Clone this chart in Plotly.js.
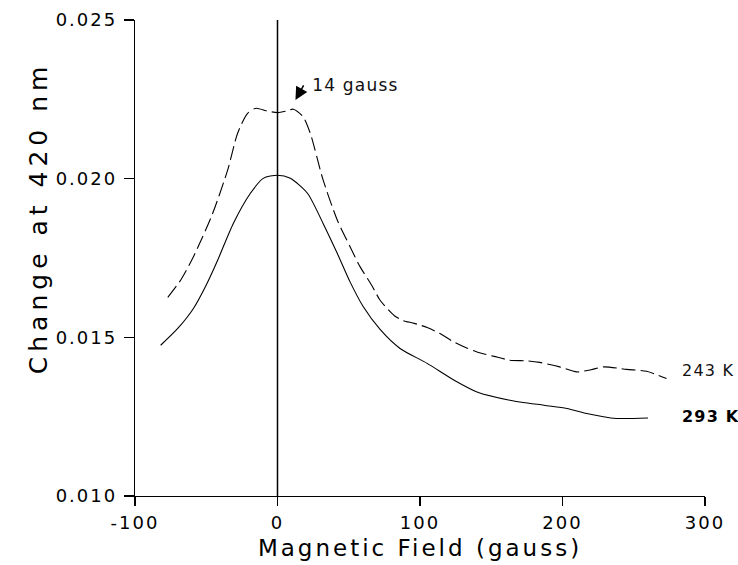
<!DOCTYPE html>
<html>
<head>
<meta charset="utf-8">
<script src="https://cdn.plot.ly/plotly-3.0.1.min.js"></script>
<style>
html, body { margin: 0; padding: 0; background: #fff; }
#chart { width: 738px; height: 565px; }
.xtitle { letter-spacing: 3px; }
.xtick text, .ytick text { letter-spacing: 2px; }
.annotation text { letter-spacing: 1.2px; }
.annotation[data-index="0"] text { letter-spacing: 5px; }
</style>
</head>
<body>
<div id="chart"></div>
<script>
// 243 K (dashed)
const field243 = [-77, -68, -59, -46, -35, -28, -21, -15, -8, 0, 7, 11, 18, 23, 32, 42, 51, 58, 66, 72, 82, 88, 96, 105, 114, 122, 132, 140, 152, 163, 175, 184, 198, 210, 220, 229, 245, 259, 273];
const change243 = [0.01626, 0.01680, 0.01754, 0.01885, 0.02027, 0.02143, 0.02206, 0.02222, 0.02214, 0.02208, 0.02214, 0.02219, 0.02195, 0.02143, 0.01996, 0.01869, 0.01785, 0.01722, 0.01665, 0.01617, 0.01568, 0.01553, 0.01544, 0.01531, 0.01512, 0.01490, 0.01468, 0.01454, 0.01440, 0.01428, 0.01426, 0.01421, 0.01407, 0.01391, 0.01398, 0.01407, 0.01399, 0.01393, 0.01370];

// 293 K (solid)
const field293 = [-82, -70, -59, -50, -42, -31, -19, -10, 0, 9, 21, 32, 42, 51, 60, 72, 86, 105, 124, 140, 163, 187, 203, 217, 234, 243, 260];
const change293 = [0.01475, 0.01528, 0.01591, 0.01665, 0.01743, 0.01859, 0.01954, 0.02001, 0.02011, 0.02001, 0.01954, 0.01859, 0.01764, 0.01674, 0.01598, 0.01525, 0.01465, 0.01418, 0.01365, 0.01328, 0.01302, 0.01286, 0.01276, 0.01260, 0.01246, 0.01244, 0.01246];

const xTickVals = [-100, 0, 100, 200, 300];
const xTickText = ["-100", "0", "100", "200", "300"];
const yTickVals = [0.010, 0.015, 0.020, 0.025];
const yTickText = ["0.010", "0.015", "0.020", "0.025"];

const seriesLabels = ["243 K", "293 K"];
const peakNote = "14 gauss";
const peakNoteAt = [12.6, 0.02248];

const traces = [
  { x: field243, y: change243, type: "scatter", mode: "lines", name: seriesLabels[0],
    line: { color: "#000", width: 1.1, dash: "14px,5px", shape: "spline", smoothing: 0.7 } },
  { x: field293, y: change293, type: "scatter", mode: "lines", name: seriesLabels[1],
    line: { color: "#000", width: 1.1, shape: "spline", smoothing: 0.7 } }
];

const font = "DejaVu Sans, sans-serif";

const layout = {
  width: 738, height: 565,
  margin: { l: 135, r: 33, t: 20, b: 69 },
  paper_bgcolor: "#fff", plot_bgcolor: "#fff",
  showlegend: false,
  xaxis: {
    range: [-100, 300], tickvals: xTickVals, ticktext: xTickText,
    showgrid: false, zeroline: false, showline: true, linecolor: "#000", linewidth: 1.2,
    ticks: "outside", ticklen: 9, tickwidth: 1.2, tickcolor: "#000",
    tickfont: { family: font, size: 18, color: "#000" }, ticklabelstandoff: 1,
    title: { text: "Magnetic Field (gauss)", font: { family: font, size: 23, color: "#000" }, standoff: 8 }
  },
  yaxis: {
    range: [0.010, 0.025], tickvals: yTickVals, ticktext: yTickText,
    showgrid: false, zeroline: false, showline: true, linecolor: "#000", linewidth: 1.2,
    ticks: "outside", ticklen: 10, tickwidth: 1.2, tickcolor: "#000",
    tickfont: { family: font, size: 18, color: "#000" }, ticklabelstandoff: 3
  },
  shapes: [
    { type: "line", xref: "x", yref: "paper", x0: 0, x1: 0, y0: 0, y1: 1,
      line: { color: "#000", width: 1.5 } }
  ],
  annotations: [
    { text: "Change at 420 nm", xref: "paper", yref: "paper", x: -0.198, y: 0.585,
      textangle: -90, showarrow: false, font: { family: font, size: 25, color: "#000" } },
    { text: seriesLabels[0], xref: "x", yref: "y", x: 284.5, y: 0.01396, xanchor: "left",
      showarrow: false, font: { family: font, size: 16, color: "#111" } },
    { text: "<b>" + seriesLabels[1] + "</b>", xref: "x", yref: "y", x: 284.5, y: 0.01251, xanchor: "left",
      showarrow: false, font: { family: font, size: 16, color: "#000" } },
    { text: peakNote, xref: "x", yref: "y", x: 26.5, y: 0.02295, xanchor: "left",
      showarrow: false, font: { family: font, size: 17, color: "#111" } },
    { text: "", xref: "x", yref: "y", x: peakNoteAt[0], y: peakNoteAt[1],
      showarrow: true, ax: 9, ay: -16, arrowhead: 2, arrowsize: 1.7, arrowwidth: 1.5,
      arrowcolor: "#000", standoff: 0, startstandoff: 0 }
  ]
};

Plotly.newPlot("chart", traces, layout, { staticPlot: true, displayModeBar: false });
</script>
</body>
</html>
